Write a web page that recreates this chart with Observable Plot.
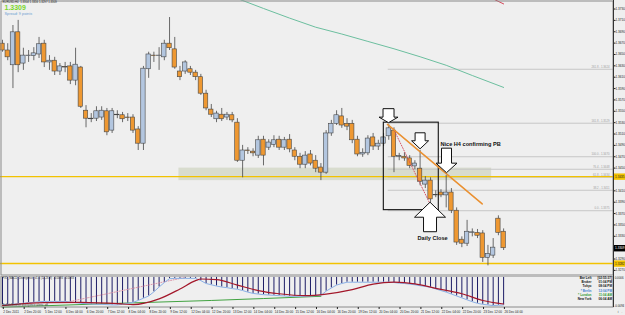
<!DOCTYPE html>
<html><head><meta charset="utf-8">
<script src="https://cdn.jsdelivr.net/npm/d3@7"></script>
<script src="https://cdn.jsdelivr.net/npm/@observablehq/plot@0.6"></script>
<style>
html,body{margin:0;padding:0;background:#efefef;}
#wrap{position:relative;width:625px;height:315px;overflow:hidden;background:#efefef;}
#wrap svg{position:absolute;left:0;}
</style></head><body><div id="wrap"></div>
<script>
// ---------- text ----------
const titleText = "EURUSD,H4  1.3304 1.3316 1.3297 1.3309";
const bidText = "1.3309";
const spreadText = "Spread: 9 points";
const noteText = "Nice H4 confirming PB";
const closeText = "Daily Close";
const macdTitle = "FX5_MACD_Divergence_v1.1 (12,26,9)  -0.0086  -0.0083";
const macdFoot = "Bullish/Bearish divergence alerts: off";
const clockNames = ["Bar Left", "Broker", "Tokyo", "* Berlin", "* London", "New York"];
const clockTimes = ["[02:55:37]", "01:04 PM", "08:04 PM", "12:04 PM", "11:04 AM", "06:04 AM"];

// ---------- candles (EURUSD H4) ----------
const open  = [1.3669,1.3657,1.3631,1.3689,1.3634,1.3647,1.3647,1.3650,1.3669,1.3636,1.3639,1.3620,1.3628,1.3629,1.3604,1.3627,1.3551,1.3537,1.3537,1.3539,1.3550,1.3516,1.3544,1.3543,1.3539,1.3539,1.3518,1.3493,1.3624,1.3648,1.3647,1.3645,1.3669,1.3659,1.3620,1.3620,1.3624,1.3618,1.3610,1.3581,1.3553,1.3536,1.3544,1.3539,1.3543,1.3530,1.3463,1.3481,1.3479,1.3472,1.3500,1.3486,1.3491,1.3500,1.3486,1.3500,1.3481,1.3470,1.3456,1.3474,1.3463,1.3451,1.3442,1.3511,1.3528,1.3541,1.3528,1.3528,1.3500,1.3474,1.3476,1.3504,1.3488,1.3493,1.3506,1.3516,1.3470,1.3470,1.3467,1.3453,1.3449,1.3421,1.3428,1.3403,1.3407,1.3402,1.3407,1.3375,1.3324,1.3317,1.3336,1.3336,1.3335,1.3292,1.3296,1.3361,1.3338];
const high  = [1.3675,1.3669,1.3701,1.3710,1.3661,1.3657,1.3662,1.3680,1.3675,1.3648,1.3645,1.3634,1.3636,1.3636,1.3661,1.3629,1.3560,1.3546,1.3558,1.3558,1.3555,1.3555,1.3551,1.3548,1.3546,1.3544,1.3523,1.3629,1.3654,1.3654,1.3662,1.3675,1.3715,1.3680,1.3629,1.3639,1.3629,1.3622,1.3615,1.3587,1.3562,1.3550,1.3555,1.3548,1.3548,1.3537,1.3490,1.3486,1.3484,1.3506,1.3506,1.3500,1.3507,1.3506,1.3504,1.3509,1.3486,1.3476,1.3479,1.3481,1.3472,1.3458,1.3516,1.3534,1.3551,1.3555,1.3537,1.3534,1.3506,1.3484,1.3507,1.3511,1.3499,1.3511,1.3527,1.3521,1.3476,1.3477,1.3472,1.3463,1.3481,1.3435,1.3433,1.3410,1.3412,1.3437,1.3414,1.3380,1.3329,1.3358,1.3343,1.3342,1.3340,1.3314,1.3326,1.3366,1.3343];
const low   = [1.3654,1.3639,1.3590,1.3618,1.3622,1.3636,1.3639,1.3643,1.3627,1.3622,1.3613,1.3613,1.3618,1.3597,1.3595,1.3555,1.3521,1.3530,1.3532,1.3534,1.3507,1.3511,1.3537,1.3530,1.3532,1.3511,1.3481,1.3481,1.3608,1.3636,1.3622,1.3639,1.3657,1.3624,1.3604,1.3615,1.3613,1.3604,1.3578,1.3551,1.3539,1.3530,1.3532,1.3534,1.3530,1.3460,1.3433,1.3474,1.3470,1.3467,1.3454,1.3481,1.3486,1.3481,1.3481,1.3477,1.3463,1.3449,1.3449,1.3454,1.3442,1.3428,1.3439,1.3506,1.3525,1.3520,1.3516,1.3493,1.3470,1.3469,1.3472,1.3481,1.3481,1.3488,1.3499,1.3442,1.3463,1.3462,1.3449,1.3447,1.3419,1.3414,1.3389,1.3398,1.3398,1.3380,1.3370,1.3314,1.3310,1.3312,1.3329,1.3326,1.3284,1.3278,1.3291,1.3331,1.3305];
const close = [1.3657,1.3645,1.3689,1.3631,1.3648,1.3648,1.3652,1.3668,1.3636,1.3639,1.3620,1.3629,1.3627,1.3604,1.3632,1.3558,1.3537,1.3536,1.3550,1.3551,1.3513,1.3550,1.3543,1.3536,1.3538,1.3516,1.3493,1.3625,1.3650,1.3647,1.3648,1.3669,1.3661,1.3627,1.3610,1.3636,1.3618,1.3610,1.3581,1.3555,1.3544,1.3546,1.3536,1.3544,1.3534,1.3463,1.3481,1.3480,1.3476,1.3499,1.3472,1.3495,1.3499,1.3486,1.3499,1.3483,1.3470,1.3456,1.3472,1.3458,1.3449,1.3442,1.3511,1.3528,1.3543,1.3525,1.3523,1.3499,1.3474,1.3477,1.3502,1.3488,1.3493,1.3504,1.3520,1.3470,1.3471,1.3467,1.3454,1.3458,1.3426,1.3428,1.3395,1.3402,1.3402,1.3407,1.3375,1.3319,1.3317,1.3338,1.3337,1.3331,1.3292,1.3299,1.3310,1.3336,1.3309];

// moving averages (bar index, price)
const maIdx = [44,46,50,55,60,65,70,75,80,85,90,96];
const maVal = [1.3752,1.3745,1.3731,1.3714,1.3698,1.3686,1.3673,1.3660,1.3646,1.3631,1.3613,1.3592];
const ma2Idx = [93.5,96];
const ma2Val = [1.3750,1.3739];

// Fibonacci levels
const fibLabels = ["0.0 - 1.3375","38.2 - 1.3411","61.8 - 1.3434","76.4 - 1.3448","100.0 - 1.3470","161.8 - 1.3529","261.8 - 1.3624"];
const fibPrices = [1.3375,1.3411,1.3434,1.3448,1.3470,1.3529,1.3624];
const fibStartIdx = 73.9;

// horizontal levels, zone
const levelPrices = [1.3435,1.3282];
const zoneIdx = [33.8,93.7];
const zonePrice = [1.3428,1.3450];

// annotations (bar index, price)
const boxIdx = [73.05,83.58];
const boxPrice = [1.3376,1.3530];
const trendIdx = [73.75,91.9];
const trendPrice = [1.3527,1.3387];
const dotIdx = [74.9,81.8];
const dotPrice = [1.3519,1.3389];
const arrowIdx = [73.95,80.0,85.06,81.9];
const arrowPrice = [1.3530,1.3484,1.3442,1.3390];
const noteAt = [83.9,1.3492];
const closeAt = [82.4,1.3327];

// price axis
const yTicks = [1.3270,1.3290,1.3310,1.3330,1.3350,1.3370,1.3390,1.3410,1.3430,1.3450,1.3470,1.3490,1.3510,1.3530,1.3550,1.3570,1.3590,1.3610,1.3630,1.3650,1.3670,1.3690,1.3710,1.3730];
const tagPrices = [1.3435,1.3309,1.3282];
const tagKinds = ["level","bid","level"];

// time axis
const xTickIdx = [0,4,8,12,16,20,24,28,32,36,40,44,48,52,56,60,64,68,72,76,80,84,88,92,96];
const xTickLabels = ["2 Dec 2011","2 Dec 20:00","5 Dec 12:00","6 Dec 04:00","6 Dec 20:00","7 Dec 12:00","8 Dec 04:00","8 Dec 20:00","9 Dec 12:00","12 Dec 04:00","12 Dec 20:00","13 Dec 12:00","14 Dec 04:00","14 Dec 20:00","15 Dec 12:00","16 Dec 04:00","16 Dec 20:00","19 Dec 12:00","20 Dec 04:00","20 Dec 20:00","21 Dec 12:00","22 Dec 04:00","22 Dec 20:00","23 Dec 12:00","26 Dec 04:00"];

// MACD panel
const macd = [-0.0086,-0.0085,-0.0084,-0.0082,-0.0081,-0.0079,-0.0078,-0.0076,-0.0075,-0.0075,-0.0075,-0.0075,-0.0075,-0.0077,-0.0079,-0.0081,-0.0082,-0.0083,-0.0084,-0.0084,-0.0085,-0.0086,-0.0086,-0.0084,-0.0081,-0.0078,-0.0072,-0.0065,-0.0058,-0.0045,-0.0030,-0.0016,-0.0004,-0.0003,-0.0003,-0.0003,-0.0003,-0.0003,-0.0010,-0.0019,-0.0023,-0.0027,-0.0030,-0.0032,-0.0035,-0.0037,-0.0041,-0.0046,-0.0050,-0.0052,-0.0054,-0.0055,-0.0056,-0.0057,-0.0058,-0.0059,-0.0059,-0.0059,-0.0059,-0.0058,-0.0057,-0.0056,-0.0043,-0.0033,-0.0024,-0.0019,-0.0015,-0.0015,-0.0015,-0.0015,-0.0015,-0.0015,-0.0015,-0.0015,-0.0015,-0.0016,-0.0018,-0.0019,-0.0021,-0.0023,-0.0026,-0.0028,-0.0031,-0.0036,-0.0041,-0.0046,-0.0052,-0.0058,-0.0064,-0.0070,-0.0076,-0.0081,-0.0084,-0.0086,-0.0088,-0.0087,-0.0086];
const sigIdx = [0,8,15,23,25,30,34,37,38,41,45,49,53,58,62,67,71,75,79,83,88,92,96];
const sigVal = [-0.0088,-0.0079,-0.0078,-0.0083,-0.0085,-0.0067,-0.0036,-0.0010,-0.0005,-0.0007,-0.0024,-0.0041,-0.0051,-0.0057,-0.0052,-0.0038,-0.0021,-0.0015,-0.0020,-0.0034,-0.0051,-0.0072,-0.0083];
const greenIdx = [0,20,40,50,61];
const greenVal = [-0.0093,-0.0082,-0.0072,-0.0066,-0.0059];
const pinkIdx = [13,35];
const pinkVal = [-0.0075,0.0000];
const macdRange = [-0.0094,0.0006];

// ---------- styles ----------
const FONT = "'Liberation Sans', Arial, sans-serif";
const X_DOMAIN = [-0.383, 117.05];
const C = {
  up: "#b3c6df", down: "#ee9832", outline: "#464646",
  teal: "#6cbf9f", red: "#d4475a", fib: "#c6c6c6", fibText: "#a0a0a0",
  yellow: "#f2c200", zone: "#d3d8c8", trend: "#ea9030"
};
const arrowStyle = [
  {hw: 19, sw: 11, hh: 5.5, H: 14, up: false},
  {hw: 17, sw: 10, hh: 8, H: 16, up: false},
  {hw: 21, sw: 10, hh: 9.5, H: 24.5, up: false},
  {hw: 31, sw: 13, hh: 15, H: 29.5, up: true}
];
function arrowSymbol({hw, sw, hh, H, up}) {
  const s = up ? -1 : 1;
  return {draw(ctx) {
    ctx.moveTo(0, 0);
    ctx.lineTo(hw / 2, -s * hh);
    ctx.lineTo(sw / 2, -s * hh);
    ctx.lineTo(sw / 2, -s * H);
    ctx.lineTo(-sw / 2, -s * H);
    ctx.lineTo(-sw / 2, -s * hh);
    ctx.lineTo(-hw / 2, -s * hh);
    ctx.closePath();
  }};
}
const tagSymbol = {draw(ctx) { ctx.rect(0.5, -3.2, 11.5, 6.4); }};
const clockColor = ["#111", "#111", "#111", "#3f7fd0", "#2f9a2f", "#111"];
const clockLine = 4.3;

// ---------- tables ----------
const candles = open.map((o, i) => ({i, o, h: high[i], l: low[i], c: close[i]}));
const ma = maIdx.map((i, k) => ({i, p: maVal[k]}));
const ma2 = ma2Idx.map((i, k) => ({i, p: ma2Val[k]}));
const fibs = fibPrices.map((p, k) => ({p, label: fibLabels[k]}));
const trend = trendIdx.map((i, k) => ({i, p: trendPrice[k]}));
const dotted = dotIdx.map((i, k) => ({i, p: dotPrice[k]}));
const tags = tagPrices.map((p, k) => ({p, kind: tagKinds[k], label: p.toFixed(4)}));
const xMax = X_DOMAIN[1];
// tick labels hidden behind a price tag are not drawn
const visibleTicks = yTicks.filter(t => !tagPrices.some(p => Math.abs(p - t) < 0.0007));

const arrowMarks = arrowIdx.map((i, k) => Plot.dot([{i, p: arrowPrice[k]}], {
  x: "i", y: "p", symbol: arrowSymbol(arrowStyle[k]), r: 5,
  fill: "white", stroke: "#111", strokeWidth: 1
}));

const main = Plot.plot({
  width: 625, height: 275,
  marginTop: 0, marginBottom: 0, marginLeft: 0, marginRight: 12,
  x: {type: "linear", domain: X_DOMAIN, axis: null},
  y: {domain: [1.3261, 1.3745], axis: null},
  style: {background: "transparent", fontFamily: FONT, overflow: "hidden"},
  marks: [
    Plot.rect([0], {x1: zoneIdx[0], x2: zoneIdx[1], y1: zonePrice[0], y2: zonePrice[1], fill: C.zone, fillOpacity: 0.85}),
    Plot.ruleY(fibs, {y: "p", x1: fibStartIdx, x2: xMax, stroke: C.fib, strokeWidth: 1}),
    Plot.text(fibs, {x: xMax, y: "p", text: "label", textAnchor: "end", dx: -4, dy: -2.2, fontSize: 2.8, fill: C.fibText}),
    Plot.ruleY(levelPrices, {stroke: C.yellow, strokeWidth: 1.4}),
    Plot.line(ma, {x: "i", y: "p", stroke: C.teal, strokeWidth: 1, clip: true}),
    Plot.line(ma2, {x: "i", y: "p", stroke: C.red, strokeWidth: 1, clip: true}),
    Plot.ruleX(candles, {x: "i", y1: "l", y2: "h", stroke: C.outline, strokeWidth: 0.8}),
    Plot.rect(candles, {x1: d => d.i - 0.42, x2: d => d.i + 0.42, y1: "o", y2: "c",
      fill: d => d.c >= d.o ? C.up : C.down, stroke: C.outline, strokeWidth: 0.6}),
    Plot.rect([0], {x1: boxIdx[0], x2: boxIdx[1], y1: boxPrice[0], y2: boxPrice[1], fill: "none", stroke: "#111", strokeWidth: 1.1}),
    Plot.line(dotted, {x: "i", y: "p", stroke: C.red, strokeWidth: 0.9, strokeDasharray: "1,1.6"}),
    Plot.line(trend, {x: "i", y: "p", stroke: C.trend, strokeWidth: 1.5}),
    ...arrowMarks,
    Plot.text([noteText], {x: noteAt[0], y: noteAt[1], text: d => d, textAnchor: "start", fontSize: 5.6, fontWeight: "bold", fill: "#111"}),
    Plot.text([closeText], {x: closeAt[0], y: closeAt[1], text: d => d, textAnchor: "middle", fontSize: 5.6, fontWeight: "bold", fill: "#111"}),
    Plot.frame({stroke: "#8a8a8a", inset: 0.5}),
    Plot.ruleX([xMax], {stroke: "#333", strokeWidth: 1}),
    Plot.axisY({anchor: "right", ticks: visibleTicks, tickFormat: d3.format(".4f"), tickSize: 1.5, tickPadding: 0.5, fontSize: 3.1, color: "#222"}),
    Plot.dot(tags, {x: xMax, y: "p", symbol: tagSymbol, r: 4, fill: d => d.kind === "bid" ? "#000" : C.yellow, stroke: "none"}),
    Plot.text(tags, {x: xMax, y: "p", text: "label", dx: 1.6, textAnchor: "start", fontSize: 3.1, fill: d => d.kind === "bid" ? "#fff" : "#222"}),
    Plot.text([titleText], {frameAnchor: "top-left", text: d => d, dx: 2, dy: 0.5, fontSize: 2.8, fill: "#222"}),
    Plot.text([bidText], {frameAnchor: "top-left", text: d => d, dx: 4, dy: 4.3, fontSize: 7, fontWeight: "bold", fill: "#7ad62a"}),
    Plot.text([spreadText], {frameAnchor: "top-left", text: d => d, dx: 4, dy: 11.4, fontSize: 3.8, fill: "#6c9fd2"})
  ]
});
main.style.top = "0px";

const macdData = macd.map((v, i) => ({i, v}));
const sig = sigIdx.map((i, k) => ({i, v: sigVal[k]}));
const green = greenIdx.map((i, k) => ({i, v: greenVal[k]}));
const pink = pinkIdx.map((i, k) => ({i, v: pinkVal[k]}));

// one text mark per clock row (dy is a constant option)
const clockMarks = clockNames.flatMap((n, k) => [
  Plot.text([n], {frameAnchor: "top-right", text: d => d, dx: -22, dy: 1 + k * clockLine, textAnchor: "end", fontSize: 3.1, fontWeight: "bold", fill: clockColor[k]}),
  Plot.text([clockTimes[k]], {frameAnchor: "top-right", text: d => d, dx: -1.5, dy: 1 + k * clockLine, textAnchor: "end", fontSize: 3.1, fontWeight: "bold", fill: clockColor[k]})
]);

const sub = Plot.plot({
  width: 625, height: 40,
  marginTop: 0, marginBottom: 8, marginLeft: 0, marginRight: 12,
  x: {type: "linear", domain: X_DOMAIN, axis: null},
  y: {domain: macdRange, axis: null},
  style: {background: "transparent", fontFamily: FONT, overflow: "hidden"},
  marks: [
    Plot.ruleX(macdData, {x: "i", y1: 0, y2: "v", stroke: "#1c1c66", strokeWidth: 1}),
    Plot.line(green, {x: "i", y: "v", stroke: "#2e9a2e", strokeWidth: 0.9}),
    Plot.line(pink, {x: "i", y: "v", stroke: "#d88aa0", strokeWidth: 0.9, strokeDasharray: "1,1.5"}),
    Plot.line(macdData, {x: "i", y: "v", stroke: "#8ab0e6", strokeWidth: 1}),
    Plot.line(sig, {x: "i", y: "v", stroke: "#a3172a", strokeWidth: 1.2, curve: "monotone-x"}),
    Plot.frame({stroke: "#8a8a8a", inset: 0.5}),
    Plot.ruleX([xMax], {stroke: "#333", strokeWidth: 1}),
    Plot.text([macdRange[1]], {frameAnchor: "top-right", text: d => d.toFixed(4), dx: 1.2, dy: 1, textAnchor: "start", fontSize: 2.9, fill: "#222"}),
    Plot.text([macdRange[0]], {frameAnchor: "bottom-right", text: d => d.toFixed(4), dx: 0.8, dy: -1, textAnchor: "start", fontSize: 2.9, fill: "#222"}),
    Plot.text([macdTitle], {frameAnchor: "top-left", text: d => d, dx: 2, dy: 1.2, fontSize: 2.8, fill: "#333"}),
    Plot.text([macdFoot], {frameAnchor: "bottom-left", text: d => d, dx: 2, dy: -1.2, fontSize: 2.8, fill: "#333"}),
    ...clockMarks,
    Plot.axisX({anchor: "bottom", ticks: xTickIdx, tickFormat: (d, k) => xTickLabels[k], tickSize: 2, tickPadding: 0.8, fontSize: 3.1, textAnchor: "start", dx: 0.8, color: "#222"})
  ]
});
sub.style.top = "275px";

const wrap = document.getElementById("wrap");
wrap.appendChild(main);
wrap.appendChild(sub);
</script>
</body></html>
